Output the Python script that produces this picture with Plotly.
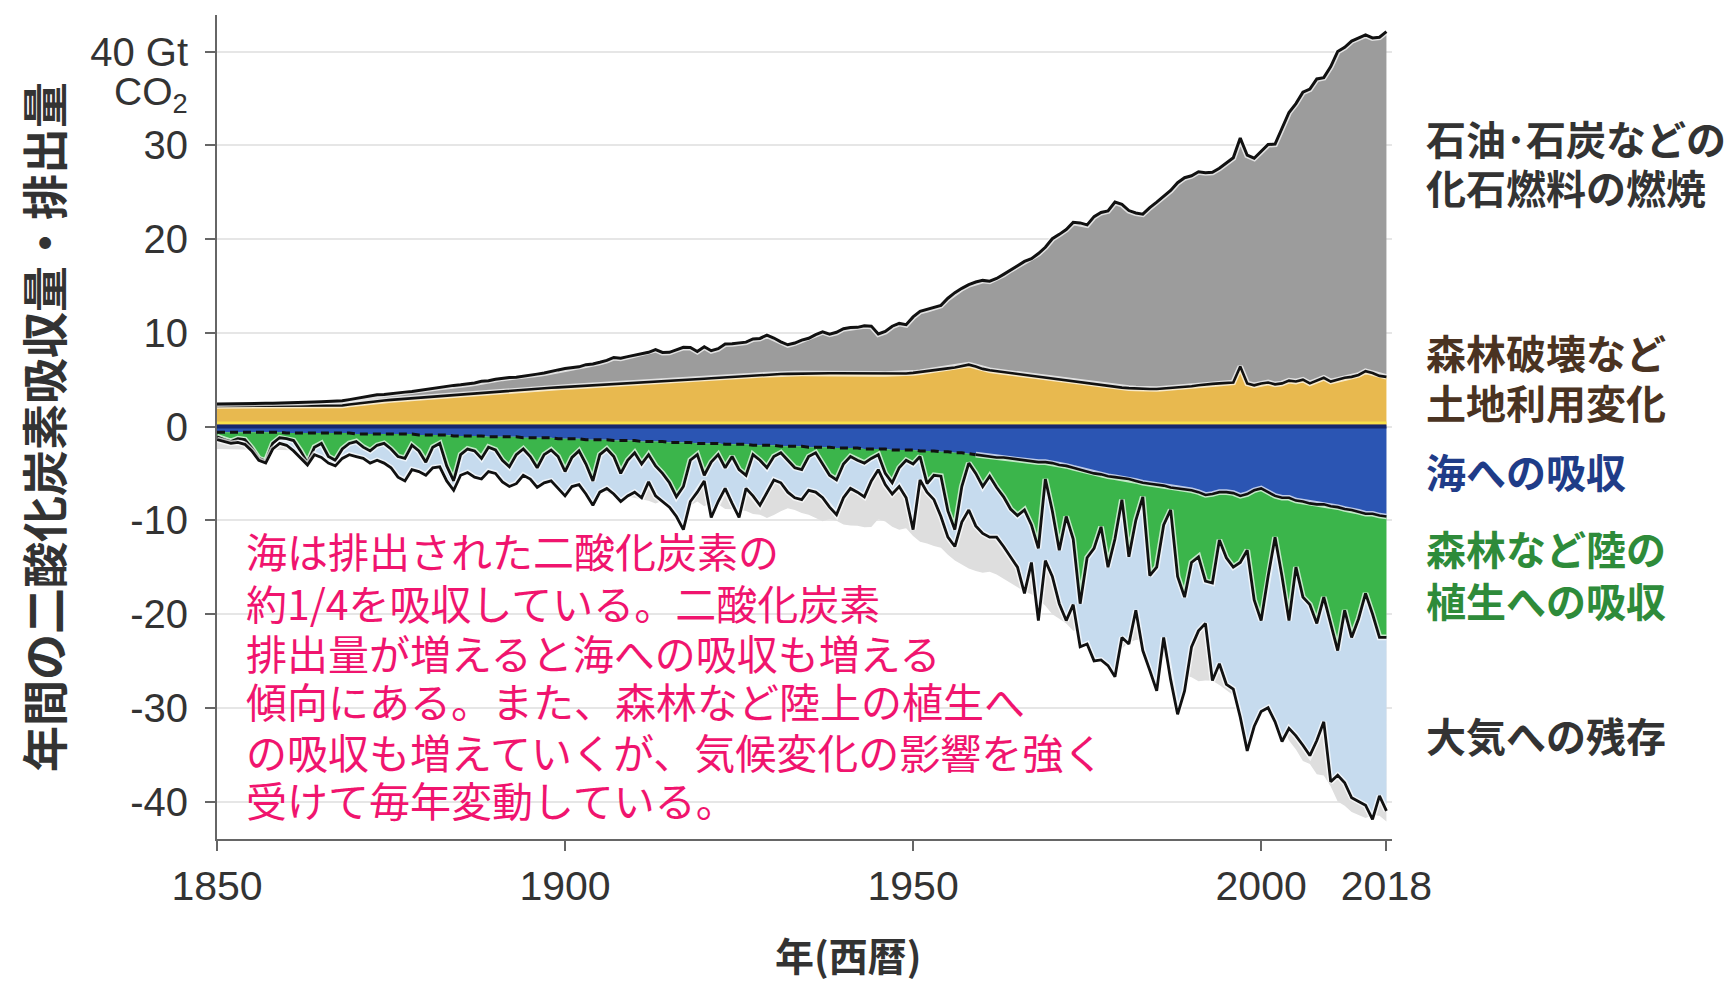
import numpy as np
import plotly.graph_objects as go

# ---- data (GtCO2 per year) ----
years = list(range(1850, 2019))

fossil = [
    0.20, 0.20, 0.21, 0.22, 0.25, 0.26, 0.28, 0.28, 0.29, 0.30,
    0.33, 0.35, 0.36, 0.38, 0.41, 0.44, 0.45, 0.48, 0.49, 0.52,
    0.54, 0.57, 0.63, 0.67, 0.64, 0.69, 0.70, 0.71, 0.72, 0.77,
    0.86, 0.89, 0.94, 1.00, 1.01, 1.01, 1.03, 1.08, 1.20, 1.20,
    1.30, 1.36, 1.37, 1.36, 1.40, 1.49, 1.54, 1.61, 1.70, 1.86,
    1.96, 2.02, 2.07, 2.26, 2.29, 2.43, 2.59, 2.87, 2.75, 2.88,
    3.00, 3.06, 3.22, 3.46, 3.11, 3.07, 3.30, 3.50, 3.43, 2.95,
    3.41, 2.94, 3.10, 3.55, 3.53, 3.57, 3.60, 3.89, 3.90, 4.20,
    3.86, 3.44, 3.10, 3.27, 3.57, 3.76, 4.14, 4.43, 4.18, 4.37,
    4.76, 4.89, 4.92, 5.10, 5.07, 4.25, 4.54, 5.10, 5.38, 5.20,
    5.97, 6.48, 6.58, 6.75, 6.83, 7.49, 7.98, 8.32, 8.54, 9.02,
    9.44, 9.50, 9.89, 10.43, 11.02, 11.52, 12.11, 12.50, 13.15, 13.92,
    14.93, 15.50, 16.12, 16.98, 17.02, 16.91, 17.89, 18.43, 18.70, 19.74,
    19.54, 18.94, 18.73, 18.66, 19.35, 19.93, 20.54, 21.08, 21.86, 22.34,
    22.45, 22.78, 22.58, 22.58, 22.96, 23.44, 23.97, 24.37, 24.34, 24.22,
    24.79, 25.38, 25.63, 27.17, 28.60, 29.65, 30.67, 31.39, 32.18, 32.02,
    33.59, 35.01, 35.25, 35.82, 35.95, 35.87, 35.76, 36.13, 36.82,
]

land_use = [
    2.20, 2.20, 2.20, 2.20, 2.20, 2.20, 2.20, 2.20, 2.20, 2.20,
    2.20, 2.20, 2.20, 2.20, 2.20, 2.20, 2.20, 2.20, 2.25, 2.35,
    2.45, 2.55, 2.65, 2.72, 2.78, 2.84, 2.90, 2.96, 3.02, 3.08,
    3.14, 3.20, 3.26, 3.32, 3.38, 3.44, 3.50, 3.56, 3.62, 3.68,
    3.74, 3.80, 3.85, 3.90, 3.95, 4.00, 4.05, 4.10, 4.14, 4.18,
    4.22, 4.26, 4.30, 4.34, 4.38, 4.42, 4.46, 4.50, 4.54, 4.58,
    4.62, 4.66, 4.70, 4.75, 4.80, 4.85, 4.90, 4.95, 5.00, 5.05,
    5.10, 5.15, 5.20, 5.25, 5.30, 5.35, 5.40, 5.45, 5.50, 5.55,
    5.58, 5.60, 5.62, 5.64, 5.65, 5.66, 5.67, 5.68, 5.68, 5.68,
    5.68, 5.67, 5.66, 5.65, 5.64, 5.62, 5.60, 5.60, 5.62, 5.66,
    5.72, 5.80, 5.90, 6.00, 6.10, 6.20, 6.30, 6.42, 6.60, 6.40,
    6.15, 6.00, 5.90, 5.80, 5.70, 5.60, 5.50, 5.40, 5.30, 5.20,
    5.10, 5.00, 4.90, 4.80, 4.70, 4.60, 4.50, 4.40, 4.30, 4.20,
    4.15, 4.10, 4.05, 4.00, 4.00, 4.00, 4.05, 4.10, 4.15, 4.20,
    4.30, 4.40, 4.50, 4.55, 4.60, 4.65, 4.70, 6.40, 4.60, 4.40,
    4.60, 4.70, 4.50, 4.60, 4.90, 4.80, 5.00, 4.60, 4.90, 5.20,
    4.80, 5.00, 5.20, 5.30, 5.50, 5.90, 5.70, 5.40, 5.30,
]

ocean_sink = [
    0.6, 0.6, 0.6, 0.6, 0.6, 0.6, 0.6, 0.6, 0.6, 0.6,
    0.7, 0.7, 0.7, 0.7, 0.7, 0.7, 0.7, 0.7, 0.7, 0.7,
    0.8, 0.8, 0.8, 0.8, 0.8, 0.8, 0.8, 0.8, 0.8, 0.9,
    0.9, 0.9, 0.9, 0.9, 1.0, 1.0, 1.0, 1.0, 1.0, 1.1,
    1.1, 1.1, 1.1, 1.1, 1.2, 1.2, 1.2, 1.2, 1.2, 1.3,
    1.3, 1.3, 1.3, 1.4, 1.4, 1.4, 1.4, 1.5, 1.5, 1.5,
    1.5, 1.6, 1.6, 1.6, 1.6, 1.7, 1.7, 1.7, 1.7, 1.8,
    1.8, 1.8, 1.8, 1.9, 1.9, 1.9, 1.9, 2.0, 2.0, 2.0,
    2.0, 2.1, 2.1, 2.1, 2.1, 2.2, 2.2, 2.2, 2.2, 2.3,
    2.3, 2.3, 2.3, 2.4, 2.4, 2.4, 2.4, 2.5, 2.5, 2.5,
    2.5, 2.6, 2.6, 2.6, 2.7, 2.7, 2.8, 2.8, 2.9, 3.0,
    3.1, 3.2, 3.3, 3.3, 3.4, 3.5, 3.6, 3.7, 3.8, 3.8,
    3.9, 4.1, 4.2, 4.4, 4.6, 4.8, 5.0, 5.1, 5.3, 5.4,
    5.5, 5.6, 5.8, 6.0, 6.1, 6.2, 6.3, 6.5, 6.6, 6.7,
    6.8, 7.0, 7.3, 7.2, 7.0, 7.0, 7.1, 7.4, 7.2, 6.8,
    6.6, 7.0, 7.4, 7.6, 7.6, 7.9, 8.0, 8.2, 8.3, 8.3,
    8.5, 8.6, 8.8, 8.9, 9.1, 9.3, 9.3, 9.5, 9.6,
]

land_sink = [
    0.5, 0.8, 1.0, 0.7, 0.8, 1.7, 2.8, 3.1, 1.2, 0.6,
    0.6, 0.8, 1.9, 3.2, 1.5, 1.1, 2.5, 2.9, 1.7, 1.1,
    0.8, 1.4, 1.8, 1.2, 1.0, 1.6, 2.4, 2.6, 1.2, 1.7,
    2.9, 1.3, 0.9, 3.3, 4.8, 2.0, 1.4, 1.6, 2.4, 1.1,
    1.4, 2.5, 3.2, 1.9, 1.2, 2.0, 3.2, 1.8, 1.3, 1.9,
    3.5, 2.0, 1.3, 2.6, 4.4, 1.6, 1.0, 1.7, 3.5, 2.1,
    1.3, 2.4, 1.4, 2.6, 3.4, 4.3, 5.8, 4.7, 1.9, 1.2,
    3.4, 2.0, 1.2, 2.5, 1.3, 2.7, 3.3, 1.0, 1.6, 2.4,
    1.2, 0.7, 1.5, 2.3, 2.5, 1.0, 0.6, 1.8, 3.0, 3.4,
    1.7, 0.9, 1.3, 1.5, 1.0, 0.6, 2.6, 3.5, 1.9, 1.1,
    1.5, 0.6, 3.5, 2.6, 2.6, 6.3, 8.2, 3.6, 1.0, 2.0,
    3.3, 2.1, 3.2, 4.2, 5.4, 6.0, 5.3, 6.8, 9.2, 1.8,
    5.1, 9.1, 5.4, 7.6, 14.3, 9.2, 8.0, 5.6, 9.7, 6.6,
    2.3, 8.3, 4.2, 1.5, 9.8, 8.8, 4.2, 2.4, 9.4, 11.5,
    7.7, 6.9, 9.2, 9.5, 5.1, 7.0, 7.9, 7.1, 6.0, 11.7,
    14.1, 9.0, 4.4, 8.4, 13.1, 7.1, 10.2, 10.8, 12.7, 9.9,
    12.5, 15.3, 10.8, 13.6, 11.4, 8.5, 10.7, 13.0, 12.9,
]

atmosphere = [
    0.3, 0.2, 0.2, 0.4, 0.5, 0.3, 0.2, 0.2, 0.6, 0.6,
    0.7, 1.1, 0.8, 0.2, 0.8, 1.5, 0.7, 0.6, 1.0, 1.2,
    1.6, 1.2, 1.3, 1.6, 2.1, 2.0, 2.2, 2.4, 2.6, 2.2,
    1.4, 2.2, 2.5, 1.6, 1.0, 2.2, 2.5, 2.8, 2.2, 2.6,
    2.5, 2.3, 2.1, 3.1, 2.8, 2.4, 2.1, 3.0, 3.3, 3.4,
    2.6, 3.1, 3.6, 3.2, 2.6, 4.0, 4.2, 4.0, 3.0, 3.8,
    4.2, 3.6, 2.9, 3.2, 3.0, 2.6, 2.1, 4.6, 4.4, 4.0,
    0.6, 5.9, 5.0, 2.2, 5.0, 5.1, 1.4, 4.4, 4.8, 2.6,
    2.5, 3.2, 3.4, 3.2, 3.2, 3.6, 4.2, 3.6, 3.4, 3.7,
    3.6, 3.4, 3.4, 3.6, 2.4, 1.6, 1.2, 1.2, 2.0, 4.0,
    7.0, 2.5, 0.9, 2.6, 4.3, 2.8, 1.8, 3.8, 5.0, 5.6,
    5.0, 6.5, 5.3, 5.3, 5.1, 5.5, 8.9, 4.0, 7.7, 8.7,
    7.0, 5.7, 11.1, 7.0, 4.6, 9.2, 12.0, 14.2, 10.5, 14.7,
    14.7, 9.3, 9.6, 16.4, 10.1, 13.2, 12.0, 18.1, 14.7, 10.0,
    9.0, 7.9, 4.5, 10.4, 13.2, 13.5, 13.0, 16.5, 21.4, 13.5,
    9.7, 14.0, 19.7, 17.6, 11.5, 18.0, 15.8, 16.1, 12.5, 13.3,
    16.9, 13.3, 18.4, 17.1, 19.5, 22.6, 21.9, 16.9, 18.5,
]

y_ticks = [-40, -30, -20, -10, 0, 10, 20, 30, 40]
y_tick_text = ["-40", "-30", "-20", "-10", "0", "10", "20", "30", "40 Gt"]
x_ticks = [1850, 1900, 1950, 2000, 2018]

# right-hand labels: (text, vertical centre in data units, colour)
series_labels = [
    ("石油･石炭などの", 30.8, "#333333"),
    ("化石燃料の燃焼", 25.6, "#333333"),
    ("森林破壊など", 8.0, "#4a3322"),
    ("土地利用変化", 2.6, "#4a3322"),
    ("海への吸収", -4.7, "#1f3c88"),
    ("森林など陸の", -13.0, "#2e8b3a"),
    ("植生への吸収", -18.5, "#2e8b3a"),
    ("大気への残存", -32.9, "#333333"),
]

note_lines = [
    "海は排出された二酸化炭素の",
    "約1/4を吸収している。二酸化炭素",
    "排出量が増えると海への吸収も増える",
    "傾向にある。また、森林など陸上の植生へ",
    "の吸収も増えていくが、気候変化の影響を強く",
    "受けて毎年変動している。",
]
note_y = [-13.2, -18.7, -24.0, -29.2, -34.6, -39.7]

# ---- stacked boundaries ----
luc = np.array(land_use)
emis_total = luc + np.array(fossil)
ocean_edge = -np.array(ocean_sink)
land_edge = ocean_edge - np.array(land_sink)
atm_edge = land_edge - np.array(atmosphere)

C_FOSSIL = "#9c9c9c"
C_LUC = "#e8b94f"
C_MIRROR = "#dedede"
C_OCEAN = "#2b55b3"
C_LAND = "#3bb54b"
C_ATM = "#c6dbee"

JP = "Noto Sans CJK JP"
NUM = "Liberation Sans"

fig = go.Figure()


def area(y, color, fill):
    fig.add_trace(go.Scatter(
        x=years, y=y, mode="lines", line=dict(width=0, color=color),
        fill=fill, fillcolor=color, hoverinfo="skip", showlegend=False))


area(luc, C_LUC, "tozeroy")
area(emis_total, C_FOSSIL, "tonexty")
area(-emis_total, C_MIRROR, "tozeroy")
area(ocean_edge, C_OCEAN, "tozeroy")
area(land_edge, C_LAND, "tonexty")
area(atm_edge, C_ATM, "tonexty")


def outline(xs, ys, width=2.8, dash="solid", halo=True):
    if halo:
        fig.add_trace(go.Scatter(
            x=xs, y=ys, mode="lines",
            line=dict(color="rgba(255,255,255,0.7)", width=width + 3),
            hoverinfo="skip", showlegend=False))
    fig.add_trace(go.Scatter(
        x=xs, y=ys, mode="lines",
        line=dict(color="#111111", width=width, dash=dash),
        hoverinfo="skip", showlegend=False))


split = years.index(1959)
outline(years, luc, 2.6)
outline(years, emis_total, 3.0)
outline(years[:split + 1], ocean_edge[:split + 1], 3.0, "8px,5px", halo=False)
outline(years[split:], ocean_edge[split:], 2.6)
outline(years, land_edge, 2.8)
outline(years, atm_edge, 2.8)

# zero line: bright yellow edge above, navy edge below
fig.add_shape(type="line", xref="x", yref="y", x0=years[0], x1=years[-1],
              y0=0, y1=0, line=dict(color="#14286e", width=4))
fig.add_shape(type="line", xref="x", yref="y", x0=years[0], x1=years[-1],
              y0=0.4, y1=0.4, line=dict(color="#f6e04c", width=2.5))

annotations = []
# unit under the top tick label
annotations.append(dict(
    text="CO<sub>2</sub>", xref="paper", x=0, xanchor="right", xshift=-27,
    yref="y", y=35.4, yanchor="middle", showarrow=False,
    font=dict(family=NUM, size=39, color="#333333")))

# y-axis title
annotations.append(dict(
    text="年間の二酸化炭素吸収量・排出量", xref="paper", x=0, xshift=-175,
    xanchor="center", yref="paper", y=0.5, yanchor="middle", textangle=-90,
    showarrow=False, font=dict(family=JP, size=46, color="#333333", weight="bold")))

# x-axis title
annotations.append(dict(
    text="年(西暦)", xref="paper", x=0.537, xanchor="center",
    yref="paper", y=0, yshift=-115, yanchor="middle", showarrow=False,
    font=dict(family=JP, size=39, color="#333333", weight="bold")))

for text, yv, col in series_labels:
    annotations.append(dict(
        text=text, xref="paper", x=1, xshift=32, xanchor="left",
        yref="y", y=yv, yanchor="middle", showarrow=False,
        font=dict(family=JP, size=40, color=col, weight="bold")))

for text, yv in zip(note_lines, note_y):
    annotations.append(dict(
        text=text, xref="x", x=1853.9, xanchor="left",
        yref="y", y=yv, yanchor="middle", showarrow=False,
        font=dict(family=JP, size=41, color="#f0146e")))

fig.update_layout(
    width=1726, height=984,
    margin=dict(l=217, r=334, t=15, b=145),
    paper_bgcolor="white", plot_bgcolor="white",
    showlegend=False,
    annotations=annotations,
    xaxis=dict(
        range=[1850, 2018.8], tickvals=x_ticks,
        ticktext=[str(v) for v in x_ticks],
        ticks="outside", ticklen=10, tickwidth=2, tickcolor="#666666",
        showline=True, linecolor="#666666", linewidth=2,
        showgrid=False, zeroline=False,
        tickfont=dict(family=NUM, size=41, color="#333333"),
    ),
    yaxis=dict(
        range=[-44.0, 43.9], tickvals=y_ticks, ticktext=y_tick_text,
        ticks="outside", ticklen=10, tickwidth=2, tickcolor="#666666",
        ticklabelstandoff=9,
        showline=True, linecolor="#666666", linewidth=2,
        showgrid=True, gridcolor="#e6e6e6", gridwidth=2, zeroline=False,
        tickfont=dict(family=NUM, size=40, color="#333333"),
    ),
)

fig.write_html("out.html")
